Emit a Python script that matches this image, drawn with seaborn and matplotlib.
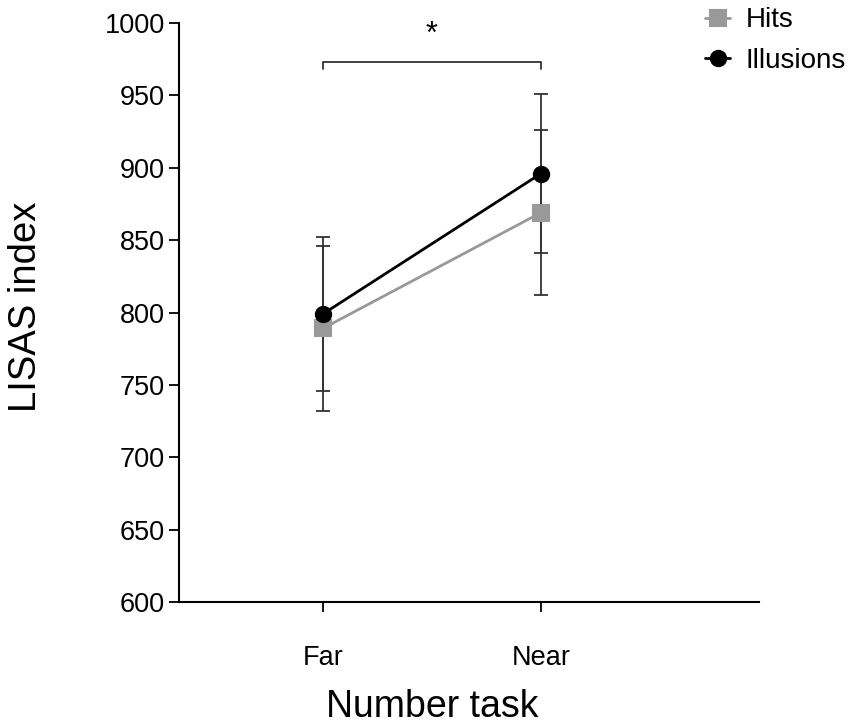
import matplotlib
matplotlib.use("Agg")
import matplotlib.pyplot as plt
import pandas as pd
import seaborn as sns

# data (means +/- error)
conditions = ["Far", "Near"]
hits_mean = [789, 869]
hits_err = [57, 57]
illusions_mean = [799, 896]
illusions_err = [53, 55]

series_names = ["Hits", "Illusions"]
series_colors = ["#999999", "#000000"]
series_markers = ["s", "o"]

y_ticks = [600, 650, 700, 750, 800, 850, 900, 950, 1000]


def main() -> None:
    sns.set_theme(style="ticks")
    plt.rcParams["font.family"] = ["Liberation Sans", "DejaVu Sans"]
    plt.rcParams["text.color"] = "black"
    plt.rcParams["axes.labelcolor"] = "black"

    df = pd.DataFrame({
        "condition": conditions * 2,
        "value": hits_mean + illusions_mean,
        "series": ["Hits"] * len(conditions) + ["Illusions"] * len(conditions),
    })

    fig = plt.figure(figsize=(8.5, 7.27), dpi=100)
    ax = fig.add_axes([0.2106, 0.1719, 0.6824, 0.7965])

    # error bars first so markers sit on top
    for means, errs in [(hits_mean, hits_err), (illusions_mean, illusions_err)]:
        ax.errorbar(range(len(conditions)), means, yerr=errs, fmt="none",
                    ecolor="#333333", elinewidth=1.3, capsize=5, capthick=1.3, zorder=1)

    sns.pointplot(
        data=df, x="condition", y="value", hue="series",
        order=conditions, hue_order=series_names,
        palette=series_colors, markers=series_markers,
        errorbar=None, ax=ax, linewidth=2, markersize=11,
    )

    ax.set_xlim(-0.66, 2.0)
    ax.set_ylim(600, 1000)
    ax.set_yticks(y_ticks)
    ax.set_xticks(range(len(conditions)))
    ax.set_xticklabels(conditions)
    ax.tick_params(axis="y", labelsize=19.5, length=7, width=1.3, pad=3, colors="black")
    ax.tick_params(axis="x", labelsize=19.5, length=7, width=1.3, pad=24, colors="black")
    for side in ["top", "right"]:
        ax.spines[side].set_visible(False)
    for side in ["left", "bottom"]:
        ax.spines[side].set_linewidth(1.5)
        ax.spines[side].set_color("black")

    ax.set_xlabel("Number task", fontsize=27)
    ax.set_ylabel("LISAS index", fontsize=27.5)
    ax.xaxis.set_label_coords(0.437, -0.151)
    ax.yaxis.set_label_coords(-0.232, 0.51)

    # significance bracket
    ax.plot([0, 0, 1, 1], [968, 973, 973, 968], color="#333333", lw=1.3, clip_on=False)
    ax.text(0.5, 992, "*", ha="center", va="center", fontsize=22)

    handles, labels = ax.get_legend_handles_labels()
    ax.legend(handles, labels, loc="upper left", bbox_to_anchor=(705 / 850, 0.99),
              bbox_transform=fig.transFigure, frameon=False, fontsize=20,
              borderpad=0, borderaxespad=0,
              handlelength=0.9, handletextpad=0.55, labelspacing=0.53)

    fig.savefig("out.png", dpi=100)
    plt.close(fig)


if __name__ == "__main__":
    main()
